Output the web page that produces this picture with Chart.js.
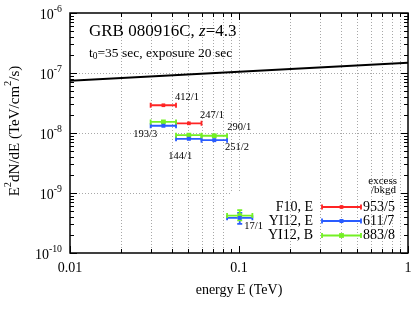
<!DOCTYPE html>
<html>
<head>
<meta charset="utf-8">
<script src="https://cdn.jsdelivr.net/npm/chart.js@4.4.1/dist/chart.umd.min.js"></script>
<style>
  html, body { margin: 0; padding: 0; background: #fff; }
  #wrap { width: 415px; height: 312px; }
</style>
</head>
<body>
<div id="wrap"><canvas id="sed" width="415" height="312"></canvas></div>
<script>
// energy bins (TeV)
const binLow  = [0.030, 0.0424, 0.060, 0.085];
const binHigh = [0.0424, 0.060, 0.085, 0.120];
const binMid  = [0.0357, 0.0505, 0.0714, 0.101];

// E^2 dN/dE (TeV/cm^2/s)
const f10E      = [2.9e-8, 1.45e-8];
const yi12E     = [1.32e-8, 8.0e-9, 7.6e-9, 3.85e-10];
const yi12ELow  = [null, null, null, 3.05e-10];
const yi12EHigh = [null, null, null, 4.65e-10];
const yi12B     = [1.53e-8, 9.2e-9, 9.0e-9, 4.2e-10];
const yi12BLow  = [null, null, null, 3.5e-10];
const yi12BHigh = [null, null, null, 5.2e-10];

// model line
const modelE    = [0.01, 1];
const modelFlux = [7.4e-8, 1.48e-7];

// excess/bkgd labels near the points
const countText = ['412/1', '247/1', '193/3', '144/1', '290/1', '251/2', '17/1'];
const countE    = [0.0418, 0.0588, 0.0237, 0.0382, 0.0852, 0.0826, 0.1074];
const countFlux = [3.88e-8, 2.0e-8, 9.62e-9, 4.14e-9, 1.225e-8, 5.69e-9, 2.82e-10];

const legendNames  = ['F10, E', 'YI12, E', 'YI12, B'];
const legendCounts = ['953/5', '611/7', '883/8'];

// axis ticks
const xTickValues = [0.01, 0.1, 1];
const xTickLabels = ['0.01', '0.1', '1'];
const yTickValues = [1e-10, 1e-9, 1e-8, 1e-7, 1e-6];
const yTickExps   = ['-10', '-9', '-8', '-7', '-6'];

const RED = '#ff2424', BLUE = '#2a5cff', GREEN = '#74f024';
const serif = '"Liberation Serif", "DejaVu Serif", serif';

const series = [
  { name: legendNames[0], color: RED,   y: f10E,  lo: [], hi: [], r: 2.6 },
  { name: legendNames[1], color: BLUE,  y: yi12E, lo: yi12ELow, hi: yi12EHigh, r: 2.8 },
  { name: legendNames[2], color: GREEN, y: yi12B, lo: yi12BLow, hi: yi12BHigh, r: 3.4 }
];

function pts(ys) {
  return ys.map((v, i) => ({ x: binMid[i], y: v }));
}

// draws runs of [text, kind] where kind 0 = normal, 1 = superscript, -1 = subscript
function drawRuns(ctx, runs, x, y, size) {
  let cx = x;
  runs.forEach(([t, k]) => {
    const s = k === 0 ? size : size * 0.7;
    ctx.font = s + 'px ' + serif;
    const dy = k === 1 ? -size * 0.42 : (k === -1 ? size * 0.25 : 0);
    ctx.fillText(t, cx, y + dy);
    cx += ctx.measureText(t).width;
  });
  return cx - x;
}
function runsWidth(ctx, runs, size) {
  let w = 0;
  runs.forEach(([t, k]) => {
    ctx.font = (k === 0 ? size : size * 0.7) + 'px ' + serif;
    w += ctx.measureText(t).width;
  });
  return w;
}

function errBar(ctx, x1, x2, y, cap) {
  ctx.beginPath();
  ctx.moveTo(x1, y); ctx.lineTo(x2, y);
  ctx.moveTo(x1, y - cap); ctx.lineTo(x1, y + cap);
  ctx.moveTo(x2, y - cap); ctx.lineTo(x2, y + cap);
  ctx.stroke();
}

const decor = {
  id: 'decor',
  beforeDatasetsDraw(chart) {
    const { ctx, chartArea: a, scales: { x, y } } = chart;
    ctx.save();
    // dotted grid
    ctx.strokeStyle = '#a8a8a8';
    ctx.lineWidth = 1;
    ctx.setLineDash([1, 2]);
    const yStop = y.getPixelForValue(1e-9);
    for (let d = -2; d < 0; d++) {
      for (let m = 1; m < 10; m++) {
        const v = m * Math.pow(10, d);
        if (d === -2 && m === 1) continue;
        const px = Math.round(x.getPixelForValue(v)) + 0.5;
        const short = (d === -2 && m === 9) || (d === -1 && m === 1);
        ctx.beginPath();
        ctx.moveTo(px, a.top);
        ctx.lineTo(px, short ? yStop : a.bottom);
        ctx.stroke();
      }
    }
    [1e-9, 1e-8, 1e-7].forEach(v => {
      const py = Math.round(y.getPixelForValue(v)) + 0.5;
      const xEnd = v === 1e-9 ? x.getPixelForValue(0.09) : a.right;
      ctx.beginPath();
      ctx.moveTo(a.left, py);
      ctx.lineTo(xEnd, py);
      ctx.stroke();
    });
    ctx.setLineDash([]);

    // error bars
    ctx.lineWidth = 1.8;
    series.forEach(s => {
      ctx.strokeStyle = s.color;
      s.y.forEach((v, i) => {
        const py = y.getPixelForValue(v);
        errBar(ctx, x.getPixelForValue(binLow[i]), x.getPixelForValue(binHigh[i]), py, 2.5);
        if (s.lo[i] != null) {
          const px = x.getPixelForValue(binMid[i]);
          const y1 = y.getPixelForValue(s.lo[i]), y2 = y.getPixelForValue(s.hi[i]);
          ctx.beginPath();
          ctx.moveTo(px, y1); ctx.lineTo(px, y2);
          ctx.moveTo(px - 2.5, y1); ctx.lineTo(px + 2.5, y1);
          ctx.moveTo(px - 2.5, y2); ctx.lineTo(px + 2.5, y2);
          ctx.stroke();
        }
      });
    });
    ctx.restore();
  },
  afterDatasetsDraw(chart) {
    const { ctx, chartArea: a, scales: { x, y } } = chart;
    ctx.save();
    ctx.fillStyle = '#000';
    ctx.strokeStyle = '#000';

    // frame
    ctx.lineWidth = 1.5;
    ctx.strokeRect(a.left, a.top, a.right - a.left, a.bottom - a.top);

    // tick marks (inward, all four sides)
    ctx.lineWidth = 1;
    for (let d = -2; d <= 0; d++) {
      for (let m = 1; m < 10; m++) {
        const v = m * Math.pow(10, d);
        if (v > 1.0001) break;
        const len = m === 1 ? 7 : 4;
        const px = Math.round(x.getPixelForValue(v)) + 0.5;
        ctx.beginPath();
        ctx.moveTo(px, a.bottom); ctx.lineTo(px, a.bottom - len);
        ctx.moveTo(px, a.top); ctx.lineTo(px, a.top + len);
        ctx.stroke();
      }
    }
    for (let d = -10; d <= -6; d++) {
      for (let m = 1; m < 10; m++) {
        const v = m * Math.pow(10, d);
        if (d === -6 && m > 1) break;
        const len = m === 1 ? 7 : 4;
        const py = Math.round(y.getPixelForValue(v)) + 0.5;
        ctx.beginPath();
        ctx.moveTo(a.left, py); ctx.lineTo(a.left + len, py);
        ctx.moveTo(a.right, py); ctx.lineTo(a.right - len, py);
        ctx.stroke();
      }
    }

    // tick labels
    ctx.textBaseline = 'middle';
    ctx.textAlign = 'center';
    ctx.font = '14px ' + serif;
    xTickValues.forEach((v, i) => {
      ctx.fillText(xTickLabels[i], x.getPixelForValue(v), a.bottom + 15);
    });
    ctx.textAlign = 'left';
    yTickValues.forEach((v, i) => {
      const runs = [['10', 0], [yTickExps[i], 1]];
      const w = runsWidth(ctx, runs, 14);
      drawRuns(ctx, runs, a.left - 8 - w, y.getPixelForValue(v) + 2.5, 14);
    });

    // axis titles
    ctx.textAlign = 'center';
    ctx.font = '14px ' + serif;
    ctx.fillText('energy E (TeV)', (a.left + a.right) / 2, 290);
    const yRuns = [['E', 0], ['2', 1], ['dN/dE (TeV/cm', 0], ['2', 1], ['/s)', 0]];
    ctx.save();
    ctx.translate(15, (a.top + a.bottom) / 2 - 2);
    ctx.rotate(-Math.PI / 2);
    ctx.textAlign = 'left';
    const yw = runsWidth(ctx, yRuns, 15);
    drawRuns(ctx, yRuns, -yw / 2, 0, 15);
    ctx.restore();

    // title lines
    ctx.textAlign = 'left';
    let cx = a.left + 19;
    ctx.font = '17px ' + serif;
    ctx.fillText('GRB 080916C, ', cx, 32);
    cx += ctx.measureText('GRB 080916C, ').width;
    ctx.font = 'italic 17px ' + serif;
    ctx.fillText('z', cx, 32);
    cx += ctx.measureText('z').width;
    ctx.font = '17px ' + serif;
    ctx.fillText('=4.3', cx, 32);
    drawRuns(ctx, [['t', 0], ['0', -1], ['=35 sec, exposure 20 sec', 0]], a.left + 19, 53, 13.5);

    // count labels
    ctx.font = '10.5px ' + serif;
    countText.forEach((t, i) => {
      ctx.fillText(t, x.getPixelForValue(countE[i]), y.getPixelForValue(countFlux[i]));
    });

    // legend
    ctx.font = '11px ' + serif;
    ctx.textAlign = 'right';
    ctx.fillText('excess', 397, 181);
    ctx.fillText('/bkgd', 396, 190);
    const rowY = [207, 221, 235.5];
    series.forEach((s, i) => {
      ctx.fillStyle = '#000';
      ctx.font = '14px ' + serif;
      ctx.textAlign = 'right';
      ctx.fillText(s.name, 313, rowY[i]);
      ctx.textAlign = 'left';
      ctx.fillText(legendCounts[i], 363, rowY[i]);
      ctx.strokeStyle = s.color;
      ctx.lineWidth = 1.8;
      errBar(ctx, 322, 361, rowY[i], 2.5);
      ctx.fillStyle = s.color;
      const h = s.r * Math.SQRT1_2;
      ctx.fillRect(341.5 - h, rowY[i] - h, 2 * h, 2 * h);
    });
    ctx.restore();
  }
};

new Chart(document.getElementById('sed'), {
  type: 'scatter',
  data: {
    datasets: [
      {
        type: 'line',
        label: 'model',
        data: modelE.map((e, i) => ({ x: e, y: modelFlux[i] })),
        borderColor: '#000',
        borderWidth: 2,
        pointRadius: 0,
        showLine: true,
        fill: false
      },
      ...series.map(s => ({
        label: s.name,
        data: pts(s.y),
        pointStyle: 'rect',
        pointRadius: s.r,
        backgroundColor: s.color,
        borderColor: s.color,
        borderWidth: 0
      }))
    ]
  },
  options: {
    responsive: false,
    animation: false,
    devicePixelRatio: 1,
    layout: { padding: { left: 70, right: 7, top: 13, bottom: 59 } },
    scales: {
      x: { type: 'logarithmic', min: 0.01, max: 1, display: false },
      y: { type: 'logarithmic', min: 1e-10, max: 1e-6, display: false }
    },
    plugins: { legend: { display: false }, tooltip: { enabled: false } }
  },
  plugins: [decor]
});
</script>
</body>
</html>
